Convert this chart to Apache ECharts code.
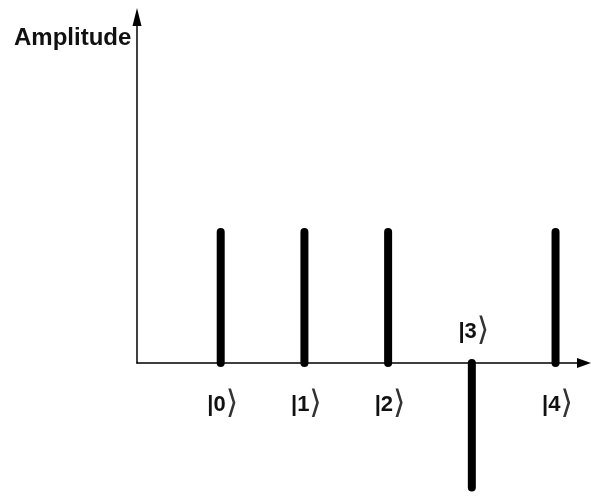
<!DOCTYPE html>
<html>
<head>
<meta charset="utf-8">
<script src="https://cdn.jsdelivr.net/npm/echarts@6/dist/echarts.min.js"></script>
<style>
  html, body { margin: 0; padding: 0; background: #fff; }
  #chart { width: 591px; height: 503px; }
</style>
</head>
<body>
<div id="chart"></div>
<script>
// basis states and their amplitudes
const states = ["0", "1", "2", "3", "4"];
const positions = [1, 2, 3, 4, 5];
const amplitudes = [1, 1, 1, -0.95, 1];

const chart = echarts.init(document.getElementById("chart"));

const renderItem = (params, api) => {
  const x = api.value(0);
  const v = api.value(1);
  const base = api.coord([x, 0]);
  const end = api.coord([x, v]);
  const up = v >= 0;
  return {
    type: "group",
    children: [
      {
        type: "line",
        shape: { x1: base[0], y1: base[1], x2: end[0], y2: end[1] },
        style: { stroke: "#000", lineWidth: 8, lineCap: "round" }
      },
      {
        type: "text",
        x: base[0] + 2,
        y: base[1] + (up ? 42 : -31),
        style: {
          text: "{b||" + states[params.dataIndex] + "}{a|⟩}",
          align: "center",
          verticalAlign: "middle",
          rich: {
            b: { fontFamily: "Liberation Sans Narrow, Liberation Sans", fontWeight: "bold", fontSize: 22, fill: "#111" },
            a: { fontFamily: "DejaVu Sans", fontWeight: "normal", fontSize: 32, fill: "#333" }
          }
        }
      }
    ]
  };
};

chart.setOption({
  animation: false,
  title: {
    text: "Amplitude",
    left: 9,
    top: 21,
    textStyle: {
      fontFamily: "Liberation Sans",
      fontWeight: "bold",
      fontSize: 24,
      color: "#111"
    }
  },
  grid: { left: 137, right: 7, top: 17, bottom: 140 },
  xAxis: {
    type: "value",
    min: 0,
    max: 5.34,
    axisLine: {
      onZero: false,
      symbol: ["none", "triangle"],
      symbolSize: [10, 14],
      lineStyle: { color: "#000", width: 1.5 }
    },
    axisTick: { show: false },
    axisLabel: { show: false },
    splitLine: { show: false }
  },
  yAxis: {
    type: "value",
    min: 0,
    max: 2.64,
    axisLine: {
      show: true,
      symbol: ["none", "triangle"],
      symbolSize: [9, 18],
      lineStyle: { color: "#000", width: 1.5 }
    },
    axisTick: { show: false },
    axisLabel: { show: false },
    splitLine: { show: false }
  },
  series: [
    {
      type: "custom",
      clip: false,
      renderItem: renderItem,
      data: positions.map((p, i) => [p, amplitudes[i]])
    }
  ]
});
</script>
</body>
</html>
